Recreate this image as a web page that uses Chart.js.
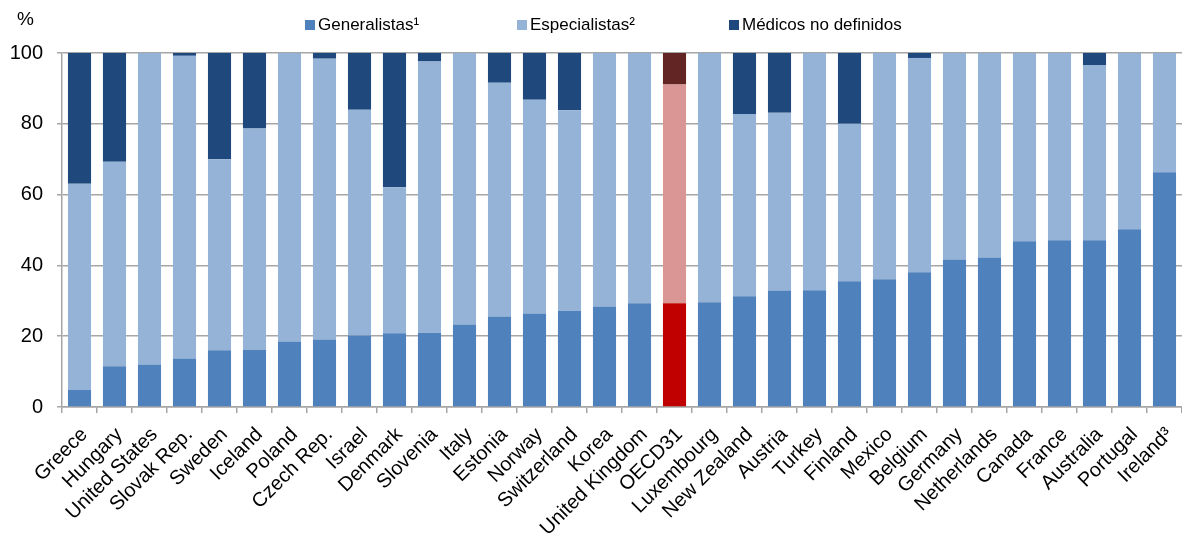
<!DOCTYPE html>
<html>
<head>
<meta charset="utf-8">
<script src="https://cdn.jsdelivr.net/npm/chart.js@4.4.1/dist/chart.umd.min.js"></script>
<style>
  html, body { margin: 0; padding: 0; background: #fff; }
</style>
</head>
<body>
<canvas id="myChart" width="1182" height="535"></canvas>
<script>
var countries = ["Greece", "Hungary", "United States", "Slovak Rep.", "Sweden", "Iceland", "Poland",
  "Czech Rep.", "Israel", "Denmark", "Slovenia", "Italy", "Estonia", "Norway", "Switzerland", "Korea",
  "United Kingdom", "OECD31", "Luxembourg", "New Zealand", "Austria", "Turkey", "Finland", "Mexico",
  "Belgium", "Germany", "Netherlands", "Canada", "France", "Australia", "Portugal", "Ireland³"];
var generalistas = [4.8, 11.5, 12.0, 13.7, 16.0, 16.2, 18.5, 19.1, 20.2, 20.8, 21.0, 23.3, 25.6, 26.4, 27.2, 28.4,
  29.3, 29.3, 29.6, 31.3, 32.9, 33.0, 35.5, 36.1, 38.1, 41.7, 42.2, 46.8, 47.1, 47.1, 50.2, 66.3];
var especialistas = [58.3, 57.8, 88.0, 85.5, 54.0, 62.5, 81.5, 79.3, 63.8, 41.3, 76.6, 76.7, 66.0, 60.4, 56.6, 71.6,
  70.7, 61.8, 70.4, 51.5, 50.2, 67.0, 44.5, 63.9, 60.5, 58.3, 57.8, 53.2, 52.9, 49.5, 49.8, 33.7];
var noDefinidos = [36.9, 30.7, 0, 0.8, 30.0, 21.3, 0, 1.6, 16.0, 37.9, 2.4, 0, 8.4, 13.2, 16.2, 0,
  0, 8.9, 0, 17.2, 16.9, 0, 20.0, 0, 1.4, 0, 0, 0, 0, 3.4, 0, 0];
var seriesNames = ["Generalistas¹", "Especialistas²", "Médicos no definidos"];
var yTicks = [0, 20, 40, 60, 80, 100];

var baseColors = ["#4F81BD", "#95B3D7", "#1F497D"];
var oecdColors = ["#C00000", "#DA9694", "#632523"];
var FONT = "'Liberation Sans', Arial, sans-serif";

function colorsFor(i) {
  return countries.map(function(c) { return c === "OECD31" ? oecdColors[i] : baseColors[i]; });
}

var extras = {
  id: "extras",
  afterDraw: function(chart) {
    var ctx = chart.ctx;
    ctx.save();
    ctx.fillStyle = "#000";
    ctx.font = "19px " + FONT;
    ctx.textBaseline = "middle";
    ctx.textAlign = "left";
    ctx.fillText("%", 17, 20);

    // legend
    var xs = [305, 517, 729];
    ctx.font = "17px " + FONT;
    for (var i = 0; i < seriesNames.length; i++) {
      ctx.fillStyle = baseColors[i];
      ctx.fillRect(xs[i], 20, 10, 10);
      ctx.fillStyle = "#000";
      ctx.fillText(seriesNames[i], xs[i] + 13, 25);
    }
    ctx.restore();
  }
};

var ctx = document.getElementById("myChart").getContext("2d");
var chart = new Chart(ctx, {
  type: "bar",
  data: {
    labels: countries,
    datasets: [
      { label: seriesNames[0], data: generalistas, backgroundColor: colorsFor(0) },
      { label: seriesNames[1], data: especialistas, backgroundColor: colorsFor(1) },
      { label: seriesNames[2], data: noDefinidos, backgroundColor: colorsFor(2) }
    ]
  },
  options: {
    responsive: false,
    animation: false,
    devicePixelRatio: 1,
    layout: { padding: { top: 53, left: 0, right: 0, bottom: 0 } },
    datasets: { bar: { barPercentage: 0.66, categoryPercentage: 1 } },
    plugins: { legend: { display: false }, tooltip: { enabled: false } },
    scales: {
      x: {
        stacked: true,
        afterFit: function(s) { s.height = 128; s.paddingRight = 0; s.paddingLeft = 0; },
        grid: { offset: true, drawOnChartArea: false, drawTicks: true, tickLength: 6, color: "#A6A6A6", lineWidth: 1.5 },
        border: { color: "#A6A6A6", width: 1.5 },
        ticks: { autoSkip: false, maxRotation: 45, minRotation: 45, padding: 10, labelOffset: 5, color: "#000", font: { family: FONT, size: 20 } }
      },
      y: {
        stacked: true,
        min: 0,
        max: 100,
        afterFit: function(s) { s.width = 62; },
        afterBuildTicks: function(s) { s.ticks = yTicks.map(function(v) { return { value: v }; }); },
        grid: { color: "#A6A6A6", lineWidth: 1.5, tickLength: 5 },
        border: { color: "#A6A6A6", width: 1.5 },
        ticks: { padding: 14, color: "#000", font: { family: FONT, size: 20 } }
      }
    }
  },
  plugins: [extras]
});
</script>
</body>
</html>
